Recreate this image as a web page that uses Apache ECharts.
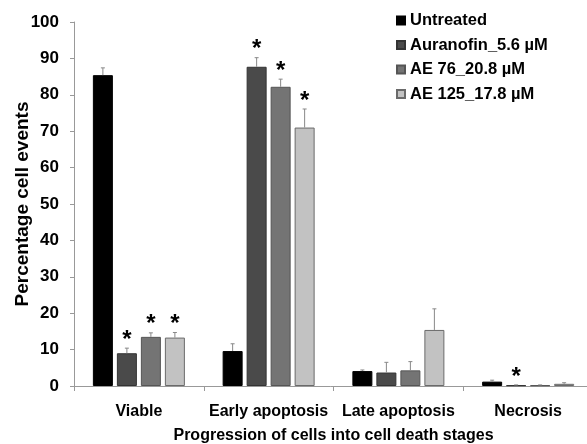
<!DOCTYPE html>
<html><head><meta charset="utf-8">
<script src="https://cdn.jsdelivr.net/npm/echarts@6/dist/echarts.min.js"></script>
<style>html,body{margin:0;padding:0;background:#fff}#c{width:587px;height:444px}</style>
</head><body><div id="c"></div>
<script>
const categories = ['Viable', 'Early apoptosis', 'Late apoptosis', 'Necrosis'];
const seriesNames = ['Untreated', 'Auranofin_5.6 µM', 'AE 76_20.8 µM', 'AE 125_17.8 µM'];
const untreated = [85.4, 9.6, 4.1, 1.2];
const auranofin = [9.0, 87.7, 3.7, 0.2];
const ae76 = [13.5, 82.2, 4.3, 0.2];
const ae125 = [13.3, 71.0, 15.4, 0.6];
const errUntreated = [2.0, 2.0, 0.3, 0.4];
const errAuranofin = [1.4, 2.5, 2.8, 0.1];
const errAe76 = [1.1, 2.1, 2.4, 0.1];
const errAe125 = [1.4, 5.1, 5.8, 0.3];
const sigUntreated = [false, false, false, false];
const sigAuranofin = [true, true, false, true];
const sigAe76 = [true, true, false, false];
const sigAe125 = [true, true, false, false];
const yTicks = [0, 10, 20, 30, 40, 50, 60, 70, 80, 90, 100];

const values = [untreated, auranofin, ae76, ae125];
const errors = [errUntreated, errAuranofin, errAe76, errAe125];
const sigs = [sigUntreated, sigAuranofin, sigAe76, sigAe125];
const colors = ['#000000', '#4a4a4a', '#747474', '#c2c2c2'];
const borders = ['#000000', '#333333', '#555555', '#6a6a6a'];
const BAR_W = 20, GAP = 4;
const FONT = '"Liberation Sans", Arial, sans-serif';

const series = [];
values.forEach((vals, i) => {
  series.push({
    name: seriesNames[i], type: 'bar', data: vals, barWidth: BAR_W, barGap: '20%',
    itemStyle: { color: colors[i], borderColor: borders[i], borderWidth: 1 },
    emphasis: { disabled: true }
  });
});
values.forEach((vals, i) => {
  const offset = (i - 1.5) * (BAR_W + GAP);
  series.push({
    type: 'custom', silent: true, z: 5,
    data: vals.map((v, k) => [k, v, v + errors[i][k], sigs[i][k] ? 1 : 0]),
    renderItem: function (params, api) {
      const k = api.value(0);
      const base = api.coord([k, api.value(1)]);
      const top = api.coord([k, api.value(2)]);
      const x = base[0] + offset;
      const children = [
        { type: 'line', shape: { x1: x, y1: base[1], x2: x, y2: top[1] }, style: { stroke: '#888', lineWidth: 1 } },
        { type: 'line', shape: { x1: x - 2, y1: top[1], x2: x + 2, y2: top[1] }, style: { stroke: '#888', lineWidth: 1 } }
      ];
      if (api.value(3)) {
        children.push({ type: 'text', style: { text: '*', x: x, y: top[1] + 4, align: 'center', verticalAlign: 'bottom', font: 'bold 24px ' + FONT, fill: '#000' } });
      }
      return { type: 'group', children: children };
    },
    encode: { x: 0, y: 1 }
  });
});

const chart = echarts.init(document.getElementById('c'), null, { renderer: 'canvas' });
chart.setOption({
  animation: false,
  backgroundColor: '#fff',
  textStyle: { fontFamily: FONT },
  grid: { left: 74, top: 22, bottom: 58, right: -6, containLabel: false, outerBoundsMode: 'none' },
  legend: {
    data: seriesNames, orient: 'vertical', left: 391, top: 7, itemGap: 7.5,
    itemWidth: 8, itemHeight: 8, icon: 'rect',
    textStyle: { fontSize: 16.5, fontWeight: 'bold', color: '#000', fontFamily: FONT }
  },
  xAxis: {
    type: 'category', data: categories,
    axisLine: { lineStyle: { color: '#999', width: 1 } },
    axisTick: { show: true, length: 5, lineStyle: { color: '#999' } },
    axisLabel: { interval: 0, fontSize: 16, fontWeight: 'bold', color: '#000', margin: 18 },
    name: 'Progression of cells into cell death stages', nameLocation: 'middle', nameGap: 42,
    nameMoveOverlap: false,
    nameTextStyle: { fontSize: 16, fontWeight: 'bold', color: '#000' }
  },
  yAxis: {
    type: 'value', min: 0, max: 100, interval: 10,
    splitLine: { show: false },
    axisLine: { show: true, lineStyle: { color: '#999', width: 1 } },
    axisTick: { show: true, length: 4, lineStyle: { color: '#999' } },
    axisLabel: { fontSize: 17, fontWeight: 'bold', color: '#000', margin: 15,
      formatter: v => yTicks.includes(v) ? String(v) : '' },
    name: 'Percentage cell events', nameLocation: 'middle', nameGap: 42,
    nameMoveOverlap: false,
    nameTextStyle: { fontSize: 19, fontWeight: 'bold', color: '#000' }
  },
  series: series
});
</script></body></html>
